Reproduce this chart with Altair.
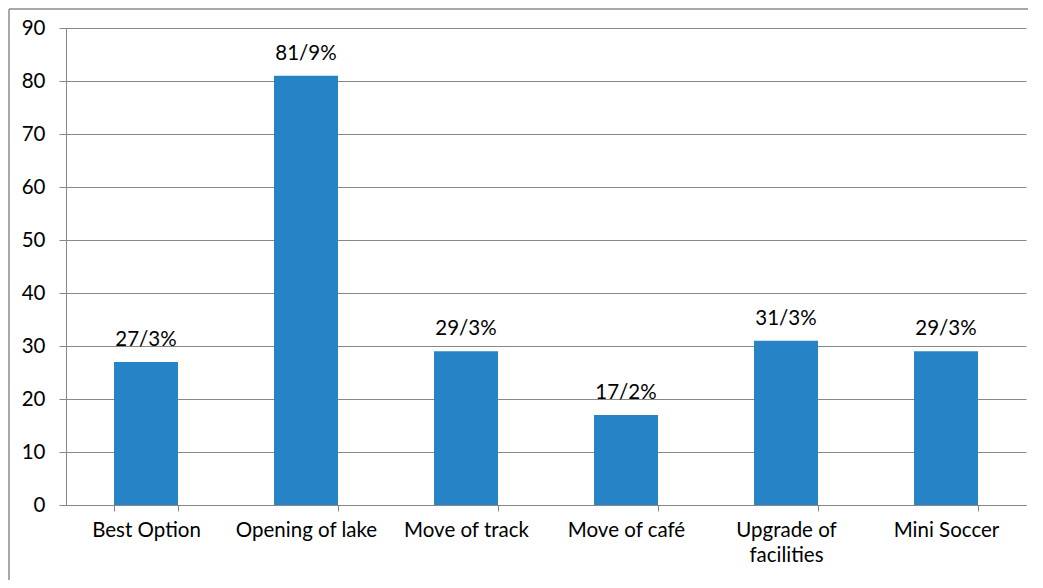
import altair as alt
import pandas as pd

categories = ["Best Option", "Opening of lake", "Move of track", "Move of café",
              "Upgrade of facilities", "Mini Soccer"]
values = [27, 81, 29, 17, 31, 29]
labels = ["27/3%", "81/9%", "29/3%", "17/2%", "31/3%", "29/3%"]
y_ticks = [0, 10, 20, 30, 40, 50, 60, 70, 80, 90]

df = pd.DataFrame({"cat": categories, "val": values, "lab": labels})

FONT = "Lato"
FS = 20.5
GRAY = "#878787"

x = alt.X("cat:N", sort=categories, title=None,
          scale=alt.Scale(paddingInner=0.6, paddingOuter=0.3),
          axis=alt.Axis(labelAngle=0, tickBand="extent", tickSize=6, tickColor=GRAY,
                        domainColor=GRAY, labelFont=FONT, labelFontSize=FS,
                        labelColor="#000000", labelPadding=9, labelLineHeight=25,
                        labelExpr="datum.label == 'Upgrade of facilities' ? ['Upgrade of', 'facilities'] : datum.label"))
y = alt.Y("val:Q", title=None,
          scale=alt.Scale(domain=[0, 90], nice=False),
          axis=alt.Axis(values=y_ticks, grid=True, gridColor=GRAY, gridOpacity=1,
                        tickSize=7, tickColor=GRAY, domainColor=GRAY,
                        labelFont=FONT, labelFontSize=FS, labelColor="#000000",
                        labelPadding=14))

bars = alt.Chart(df).mark_bar(color="#2683C6").encode(x=x, y=y)
text = alt.Chart(df).mark_text(font=FONT, fontSize=FS, color="#000000",
                               baseline="alphabetic", dy=-16).encode(
    x=alt.X("cat:N", sort=categories), y="val:Q", text="lab:N")

one = alt.Data(values=[{"a": 1}])
top_line = alt.Chart(one).mark_rule(color="#8c8c8c", strokeWidth=1.5, clip=False).encode(
    x=alt.value(-57), x2=alt.value(3000), y=alt.value(-19))
left_line = alt.Chart(one).mark_rule(color="#8c8c8c", strokeWidth=1.5, clip=False).encode(
    x=alt.value(-57), y=alt.value(-19), y2=alt.value(3000))

chart = alt.layer(top_line, left_line, bars, text).properties(
    width=960, height=477,
    padding={"left": 58, "top": 20, "right": 2, "bottom": 75},
    autosize=alt.AutoSizeParams(type="none"),
).configure_view(stroke=None)

chart.save("out.html", embed_options={"renderer": "svg", "actions": False})
